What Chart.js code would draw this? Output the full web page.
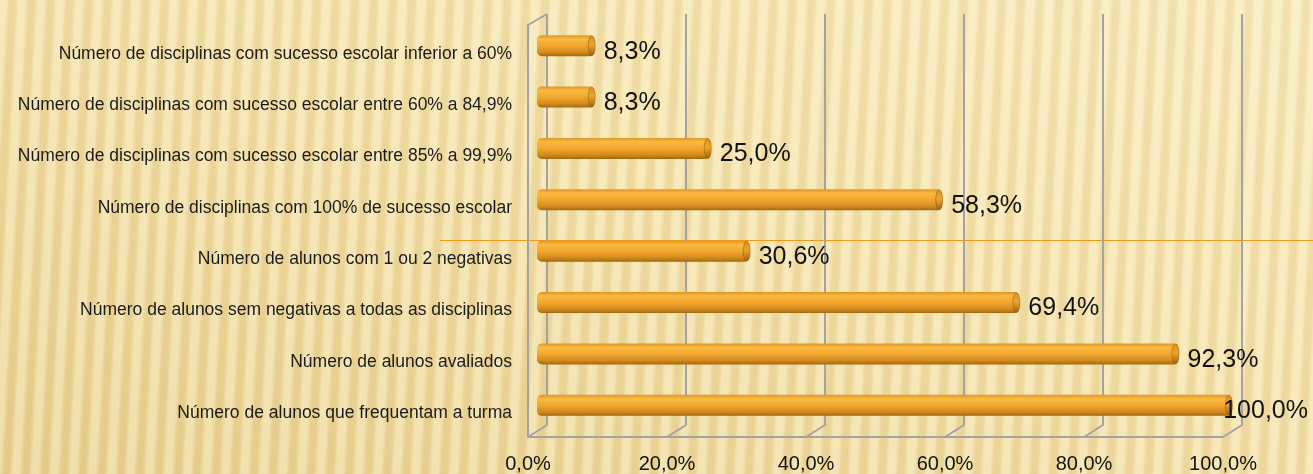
<!DOCTYPE html>
<html>
<head>
<meta charset="utf-8">
<script src="https://cdn.jsdelivr.net/npm/chart.js@4"></script>
<style>
  html, body { margin: 0; padding: 0; }
  body {
    width: 1313px; height: 474px; overflow: hidden; position: relative;
    background:
      repeating-linear-gradient(93deg,
        rgba(255,252,225,0.35) 0px, rgba(255,252,225,0.35) 6px,
        rgba(185,140,40,0.09) 10px, rgba(185,140,40,0.09) 15px,
        rgba(255,252,225,0.35) 19px),
      linear-gradient(200deg, #f8eabc 0%, #f3e0a8 45%, #e8d08e 100%);
  }
  #linha { position: absolute; left: 440px; top: 240px; width: 873px; height: 1px; background: #f09a1a; }
  #caixa { position: absolute; left: 0; top: 0; width: 1313px; height: 474px; }
</style>
</head>
<body>
<div id="linha"></div>
<div id="caixa"><canvas id="grafico" width="1313" height="474"></canvas></div>
<script>
const categorias = [
  'Número de disciplinas com sucesso escolar inferior a 60%',
  'Número de disciplinas com sucesso escolar entre 60% a 84,9%',
  'Número de disciplinas com sucesso escolar entre 85% a 99,9%',
  'Número de disciplinas com 100% de sucesso escolar',
  'Número de alunos com 1 ou 2 negativas',
  'Número de alunos sem negativas a todas as disciplinas',
  'Número de alunos avaliados',
  'Número de alunos que frequentam a turma'
];
const percentagens = [8.3, 8.3, 25.0, 58.3, 30.6, 69.4, 92.3, 100.0];
const marcasX = [0, 20, 40, 60, 80, 100];

const fmt = v => v.toFixed(1).replace('.', ',') + '%';

// cylinder-like shading for each bar
function gradienteBarra(c) {
  const chart = c.chart;
  if (!chart.chartArea || !chart.scales.y) return '#f2a832';
  const cy = chart.scales.y.getPixelForValue(c.dataIndex);
  const g = chart.ctx.createLinearGradient(0, cy - 11, 0, cy + 11);
  g.addColorStop(0, '#dc9020');
  g.addColorStop(0.2, '#fbb940');
  g.addColorStop(0.5, '#f2a72e');
  g.addColorStop(0.8, '#d48a1e');
  g.addColorStop(1, '#9c620e');
  return g;
}

// walls, floor and grid drawn in perspective
const moldura3d = {
  id: 'moldura3d',
  beforeDatasetsDraw(chart) {
    const { ctx, chartArea: a, scales: { x } } = chart;
    const tras = 10, frente = -9;
    ctx.save();
    ctx.strokeStyle = '#a3a3a3';
    ctx.lineWidth = 2;
    ctx.lineJoin = 'round';
    marcasX.forEach(v => {
      const px = x.getPixelForValue(v);
      ctx.beginPath();
      ctx.moveTo(px + tras, a.top - 6);
      ctx.lineTo(px + tras, a.bottom - 6);
      ctx.lineTo(px + frente, a.bottom + 6);
      ctx.stroke();
    });
    const x0 = x.getPixelForValue(0), x1 = x.getPixelForValue(100);
    ctx.beginPath();
    ctx.moveTo(x0 + tras, a.top - 6);
    ctx.lineTo(x0 + frente, a.top + 5);
    ctx.lineTo(x0 + frente, a.bottom + 6);
    ctx.lineTo(x1 + frente, a.bottom + 6);
    ctx.stroke();
    ctx.restore();
  },
  afterDatasetsDraw(chart) {
    const { ctx } = chart;
    const meta = chart.getDatasetMeta(0);
    ctx.save();
    meta.data.forEach((bar, i) => {
      const h = bar.height, cy = bar.y;
      // rounded end cap
      const g = ctx.createLinearGradient(0, cy - h / 2, 0, cy + h / 2);
      g.addColorStop(0, '#d88e20');
      g.addColorStop(0.45, '#eda52e');
      g.addColorStop(1, '#9a600e');
      ctx.fillStyle = g;
      ctx.beginPath();
      ctx.ellipse(bar.x - 3, cy, 3.5, h / 2 - 0.5, 0, 0, Math.PI * 2);
      ctx.fill();
      ctx.strokeStyle = 'rgba(130,80,10,0.45)';
      ctx.lineWidth = 1;
      ctx.stroke();
      // value label
      const txt = fmt(percentagens[i]);
      ctx.font = '25px "Liberation Sans", Arial, sans-serif';
      ctx.fillStyle = '#111';
      ctx.textBaseline = 'middle';
      const w = ctx.measureText(txt).width;
      const lx = Math.min(bar.x + 9, chart.width - 5 - w);
      ctx.fillText(txt, lx, cy + 6);
    });
    ctx.restore();
  }
};

new Chart(document.getElementById('grafico'), {
  type: 'bar',
  data: {
    labels: categorias,
    datasets: [{
      data: percentagens,
      backgroundColor: gradienteBarra,
      borderRadius: 5,
      borderSkipped: false,
      barPercentage: 0.41,
      categoryPercentage: 1
    }]
  },
  options: {
    indexAxis: 'y',
    responsive: false,
    animation: false,
    layout: { padding: { top: 20, right: 81, left: 0, bottom: 0 } },
    plugins: { legend: { display: false }, tooltip: { enabled: false } },
    scales: {
      x: {
        min: 0, max: 100,
        afterBuildTicks: s => { s.ticks = marcasX.map(v => ({ value: v })); },
        afterFit: s => { s.height = 43; s.paddingLeft = 0; s.paddingRight = 0; },
        grid: { display: false, drawTicks: false },
        border: { display: false },
        ticks: {
          callback: v => fmt(v),
          font: { family: '"Liberation Sans", Arial, sans-serif', size: 20 },
          color: '#111',
          padding: 21,
          labelOffset: -9,
          maxRotation: 0
        }
      },
      y: {
        afterFit: s => { s.width = 537; s.paddingTop = 0; s.paddingBottom = 0; },
        grid: { display: false, drawTicks: false },
        border: { display: false },
        ticks: {
          font: { family: '"Liberation Sans", Arial, sans-serif', size: 17.5 },
          color: '#1a1a1a',
          padding: 25,
          labelOffset: 8
        }
      }
    }
  },
  plugins: [moldura3d]
});
</script>
</body>
</html>
